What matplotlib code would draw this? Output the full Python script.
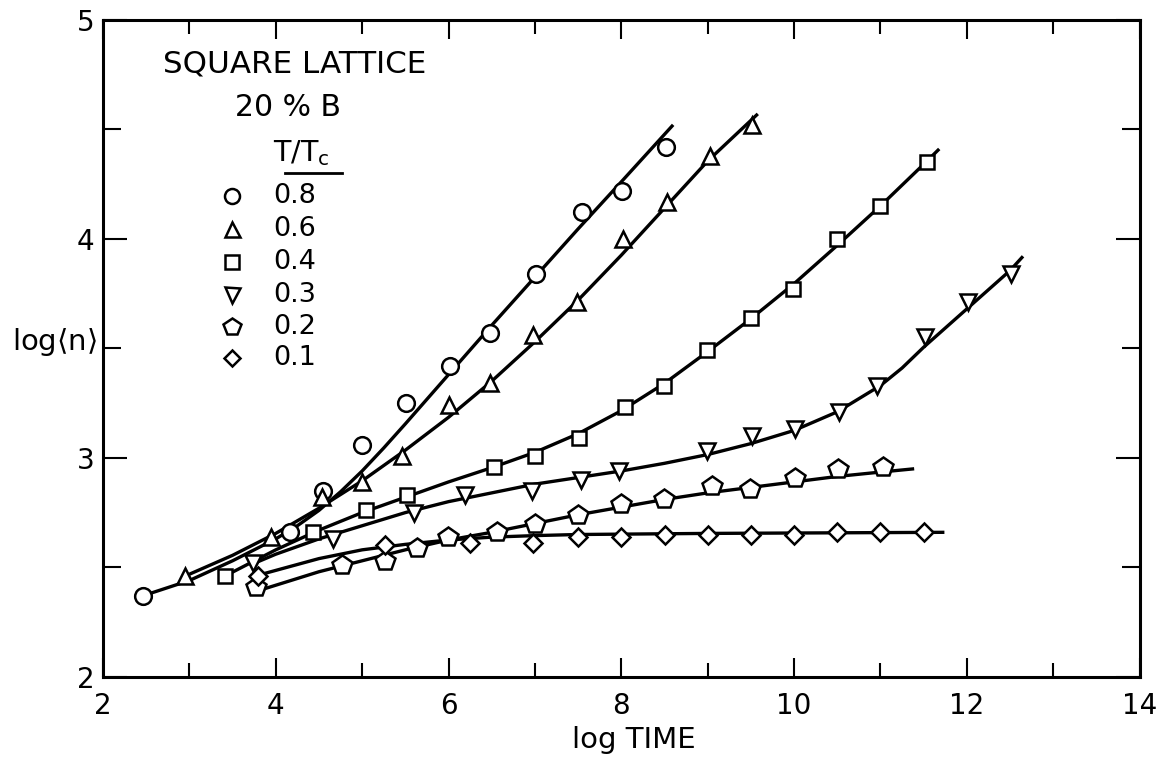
import matplotlib
matplotlib.use("Agg")
import matplotlib.pyplot as plt
from matplotlib.ticker import MultipleLocator

plt.rcParams['font.family'] = ['DejaVu Sans']
plt.rcParams['mathtext.fontset'] = 'dejavusans'

# T/Tc values and marker shapes (legend order)
LABELS = ["0.8", "0.6", "0.4", "0.3", "0.2", "0.1"]
MARKERS = ["o", "^", "s", "v", "p", "D"]
MARKER_SIZES = [12, 12, 10.5, 12, 14.5, 9.6]

# measured points (log TIME, log<n>)
x_08 = [2.46, 4.16, 4.55, 5.0, 5.51, 6.02, 6.48, 7.01, 7.54, 8.01, 8.52]
y_08 = [2.37, 2.66, 2.85, 3.06, 3.25, 3.42, 3.57, 3.84, 4.12, 4.22, 4.42]

x_06 = [2.95, 3.94, 4.53, 5.0, 5.46, 6.0, 6.48, 6.98, 7.49, 8.02, 8.53, 9.03, 9.51]
y_06 = [2.46, 2.64, 2.82, 2.89, 3.01, 3.24, 3.34, 3.56, 3.71, 4.0, 4.17, 4.38, 4.52]

x_04 = [3.41, 4.43, 5.04, 5.52, 6.53, 7.0, 7.51, 8.04, 8.49, 8.99, 9.5, 9.99, 10.5, 11.0, 11.54]
y_04 = [2.46, 2.66, 2.76, 2.83, 2.96, 3.01, 3.09, 3.23, 3.33, 3.49, 3.64, 3.77, 4.0, 4.15, 4.35]

x_03 = [3.74, 4.66, 5.6, 6.19, 6.97, 7.53, 7.97, 8.99, 9.51, 10.01, 10.52, 10.96, 11.51, 12.01, 12.51]
y_03 = [2.52, 2.63, 2.75, 2.83, 2.85, 2.9, 2.94, 3.03, 3.1, 3.13, 3.21, 3.33, 3.55, 3.71, 3.84]

x_02 = [3.77, 4.77, 5.26, 5.63, 5.99, 6.56, 7.0, 7.5, 8.0, 8.49, 9.05, 9.49, 10.01, 10.51, 11.03]
y_02 = [2.41, 2.51, 2.53, 2.59, 2.64, 2.66, 2.70, 2.74, 2.79, 2.81, 2.87, 2.86, 2.91, 2.95, 2.96]

x_01 = [3.8, 5.26, 6.25, 6.98, 7.5, 8.0, 8.5, 9.0, 9.5, 10.0, 10.5, 11.0, 11.5]
y_01 = [2.46, 2.60, 2.61, 2.61, 2.64, 2.64, 2.65, 2.65, 2.65, 2.65, 2.66, 2.66, 2.66]

# hand-drawn fit curves
fx_08 = [2.46, 3.0, 3.5, 4.0, 4.25, 4.5, 4.75, 5.0, 5.25, 5.5, 6.0, 6.5, 7.0, 7.5, 8.0, 8.6]
fy_08 = [2.37, 2.44, 2.53, 2.63, 2.69, 2.76, 2.845, 2.94, 3.045, 3.155, 3.38, 3.605, 3.825, 4.045, 4.26, 4.52]

fx_06 = [2.95, 3.5, 4.0, 4.5, 5.0, 5.5, 6.0, 6.5, 7.0, 7.5, 8.0, 8.5, 9.0, 9.58]
fy_06 = [2.46, 2.555, 2.655, 2.77, 2.895, 3.035, 3.185, 3.35, 3.53, 3.72, 3.925, 4.14, 4.355, 4.57]

fx_04 = [3.41, 4.0, 4.5, 5.0, 5.5, 6.0, 6.5, 7.0, 7.5, 8.0, 8.5, 9.0, 9.5, 10.0, 10.5, 11.0, 11.5, 11.68]
fy_04 = [2.46, 2.58, 2.67, 2.75, 2.82, 2.89, 2.955, 3.025, 3.11, 3.215, 3.34, 3.485, 3.635, 3.795, 3.97, 4.15, 4.34, 4.41]

fx_03 = [3.76, 4.0, 4.5, 5.0, 5.5, 6.0, 6.5, 7.0, 7.5, 8.0, 8.5, 9.0, 9.5, 10.0, 10.5, 11.0, 11.25, 11.5, 12.0, 12.5, 12.65]
fy_03 = [2.52, 2.56, 2.63, 2.69, 2.75, 2.80, 2.84, 2.88, 2.91, 2.94, 2.975, 3.015, 3.065, 3.125, 3.21, 3.33, 3.41, 3.505, 3.68, 3.855, 3.92]

fx_02 = [3.85, 4.5, 5.0, 5.5, 6.0, 6.5, 7.0, 7.5, 8.0, 8.5, 9.0, 9.5, 10.0, 10.5, 11.0, 11.39]
fy_02 = [2.40, 2.48, 2.53, 2.58, 2.625, 2.66, 2.70, 2.74, 2.775, 2.81, 2.84, 2.865, 2.89, 2.915, 2.935, 2.95]

fx_01 = [3.85, 4.5, 5.0, 5.5, 6.0, 6.5, 7.0, 7.5, 9.0, 11.74]
fy_01 = [2.47, 2.54, 2.58, 2.605, 2.625, 2.638, 2.645, 2.65, 2.655, 2.66]

POINTS = [(x_08, y_08), (x_06, y_06), (x_04, y_04), (x_03, y_03), (x_02, y_02), (x_01, y_01)]
CURVES = [(fx_08, fy_08), (fx_06, fy_06), (fx_04, fy_04), (fx_03, fy_03), (fx_02, fy_02), (fx_01, fy_01)]


fig = plt.figure(figsize=(11.57, 7.58), dpi=100)
ax = fig.add_axes([0.089, 0.107, 0.896, 0.867])

for (cx, cy) in CURVES:
    ax.plot(cx, cy, color="black", linewidth=2.4, solid_capstyle="butt",
            solid_joinstyle="round", zorder=2)

for (px, py), m, ms in zip(POINTS, MARKERS, MARKER_SIZES):
    ax.plot(px, py, linestyle="none", marker=m, markersize=ms,
            markerfacecolor="white", markeredgecolor="black",
            markeredgewidth=1.8, zorder=3)

# legend block drawn by hand
ax.text(0.185, 0.932, "SQUARE LATTICE", transform=ax.transAxes,
        ha="center", va="center", fontsize=22.3)
ax.text(0.178, 0.866, "20 % B", transform=ax.transAxes,
        ha="center", va="center", fontsize=21.5)
ax.text(0.191, 0.797, r"T/T$_\mathregular{c}$", transform=ax.transAxes,
        ha="center", va="center", fontsize=20.5)
ax.plot([0.1755, 0.2305], [0.767, 0.767], transform=ax.transAxes,
        color="black", linewidth=2.0, clip_on=False)

row_y = [0.731, 0.682, 0.632, 0.581, 0.533, 0.486]
for yy, lab, m, ms in zip(row_y, LABELS, MARKERS, MARKER_SIZES):
    ax.plot([0.124], [yy], transform=ax.transAxes, linestyle="none",
            marker=m, markersize=ms * 0.9, markerfacecolor="white",
            markeredgecolor="black", markeredgewidth=1.8, clip_on=False)
    ax.text(0.164, yy, lab, transform=ax.transAxes, ha="left",
            va="center", fontsize=19.5)

ax.set_xlim(2, 14)
ax.set_ylim(2, 5)
ax.xaxis.set_major_locator(MultipleLocator(2))
ax.xaxis.set_minor_locator(MultipleLocator(1))
ax.yaxis.set_major_locator(MultipleLocator(1))
ax.yaxis.set_minor_locator(MultipleLocator(0.5))
ax.tick_params(axis="both", which="both", direction="in",
               top=True, right=True, width=1.5, labelsize=20)
ax.tick_params(axis="x", which="major", length=14, pad=11)
ax.tick_params(axis="x", which="minor", length=10)
ax.tick_params(axis="y", which="major", length=17, pad=6)
ax.tick_params(axis="y", which="minor", length=13)
for sp in ax.spines.values():
    sp.set_linewidth(2.2)

ax.set_xlabel("log TIME", fontsize=21)
ax.xaxis.set_label_coords(0.512, -0.075)
ax.set_ylabel(r"log$\langle$n$\rangle$", fontsize=21, rotation=0,
              ha="right", va="center")
ax.yaxis.set_label_coords(-0.006, 0.51)

fig.savefig("out.png", dpi=100)
